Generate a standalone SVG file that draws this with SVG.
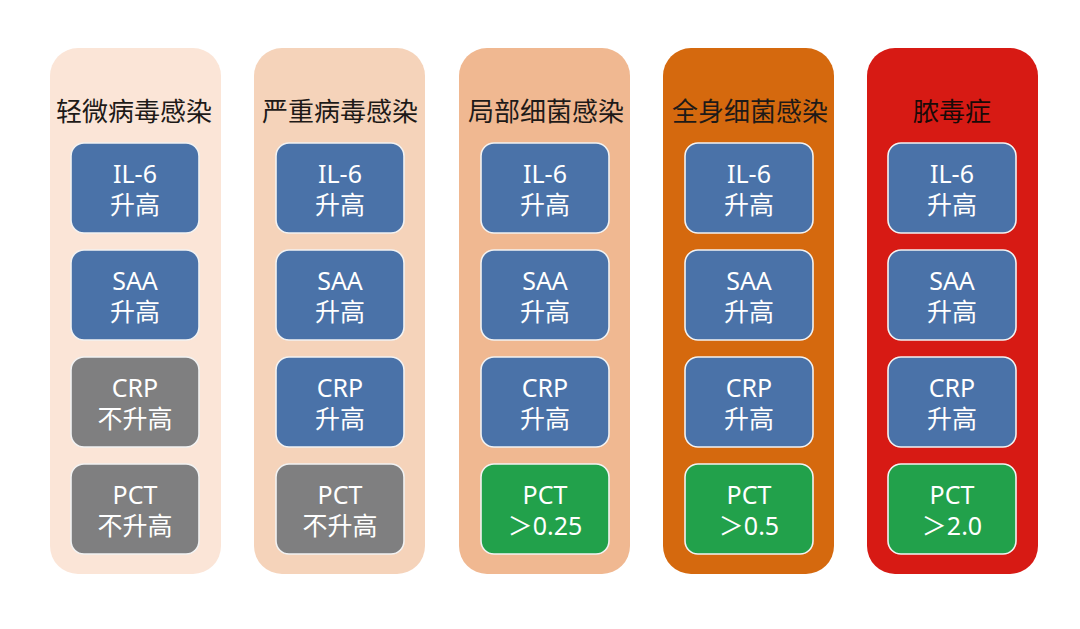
<svg xmlns="http://www.w3.org/2000/svg" width="1080" height="629" viewBox="0 0 1080 629">
<style>
.col{stroke:none}
.box{stroke:#F2F2F2;stroke-width:1.6}
.blue{fill:#4A72A8}
.gray{fill:#7F7F80}
.green{fill:#22A14B}
.title{font-family:"Noto Sans CJK SC","Noto Sans",sans-serif;font-size:26px;fill:#1E1A18;text-anchor:middle}
.t{font-family:"Noto Sans","Noto Sans CJK SC",sans-serif;font-size:25px;fill:#FFFFFF;text-anchor:middle}
</style>
<rect width="1080" height="629" fill="#FFFFFF"/>
<g id="col1">
<rect class="col" x="50" y="48" width="171" height="526" rx="28" fill="#FBE5D7"/>
<text class="title" x="134" y="121">轻微病毒感染</text>
<g id="col1-il6"><rect class="box blue" x="71" y="143" width="128" height="90" rx="13"/><text class="t" x="135" y="183">IL-6</text><text class="t" x="135" y="214">升高</text></g>
<g id="col1-saa"><rect class="box blue" x="71" y="250" width="128" height="90" rx="13"/><text class="t" x="135" y="290">SAA</text><text class="t" x="135" y="321">升高</text></g>
<g id="col1-crp"><rect class="box gray" x="71" y="357" width="128" height="90" rx="13"/><text class="t" x="135" y="397">CRP</text><text class="t" x="135" y="428">不升高</text></g>
<g id="col1-pct"><rect class="box gray" x="71" y="464" width="128" height="90" rx="13"/><text class="t" x="135" y="504">PCT</text><text class="t" x="135" y="535">不升高</text></g>
</g>
<g id="col2">
<rect class="col" x="254" y="48" width="171" height="526" rx="28" fill="#F5D3BA"/>
<text class="title" x="340" y="121">严重病毒感染</text>
<g id="col2-il6"><rect class="box blue" x="276" y="143" width="128" height="90" rx="13"/><text class="t" x="340" y="183">IL-6</text><text class="t" x="340" y="214">升高</text></g>
<g id="col2-saa"><rect class="box blue" x="276" y="250" width="128" height="90" rx="13"/><text class="t" x="340" y="290">SAA</text><text class="t" x="340" y="321">升高</text></g>
<g id="col2-crp"><rect class="box blue" x="276" y="357" width="128" height="90" rx="13"/><text class="t" x="340" y="397">CRP</text><text class="t" x="340" y="428">升高</text></g>
<g id="col2-pct"><rect class="box gray" x="276" y="464" width="128" height="90" rx="13"/><text class="t" x="340" y="504">PCT</text><text class="t" x="340" y="535">不升高</text></g>
</g>
<g id="col3">
<rect class="col" x="459" y="48" width="171" height="526" rx="28" fill="#F0B891"/>
<text class="title" x="546" y="121">局部细菌感染</text>
<g id="col3-il6"><rect class="box blue" x="481" y="143" width="128" height="90" rx="13"/><text class="t" x="545" y="183">IL-6</text><text class="t" x="545" y="214">升高</text></g>
<g id="col3-saa"><rect class="box blue" x="481" y="250" width="128" height="90" rx="13"/><text class="t" x="545" y="290">SAA</text><text class="t" x="545" y="321">升高</text></g>
<g id="col3-crp"><rect class="box blue" x="481" y="357" width="128" height="90" rx="13"/><text class="t" x="545" y="397">CRP</text><text class="t" x="545" y="428">升高</text></g>
<g id="col3-pct"><rect class="box green" x="481" y="464" width="128" height="90" rx="13"/><text class="t" x="545" y="504">PCT</text><text class="t" x="545" y="535">＞0.25</text></g>
</g>
<g id="col4">
<rect class="col" x="663" y="48" width="171" height="526" rx="28" fill="#D5690E"/>
<text class="title" x="750" y="121">全身细菌感染</text>
<g id="col4-il6"><rect class="box blue" x="685" y="143" width="128" height="90" rx="13"/><text class="t" x="749" y="183">IL-6</text><text class="t" x="749" y="214">升高</text></g>
<g id="col4-saa"><rect class="box blue" x="685" y="250" width="128" height="90" rx="13"/><text class="t" x="749" y="290">SAA</text><text class="t" x="749" y="321">升高</text></g>
<g id="col4-crp"><rect class="box blue" x="685" y="357" width="128" height="90" rx="13"/><text class="t" x="749" y="397">CRP</text><text class="t" x="749" y="428">升高</text></g>
<g id="col4-pct"><rect class="box green" x="685" y="464" width="128" height="90" rx="13"/><text class="t" x="749" y="504">PCT</text><text class="t" x="749" y="535">＞0.5</text></g>
</g>
<g id="col5">
<rect class="col" x="867" y="48" width="171" height="526" rx="28" fill="#D71A14"/>
<text class="title" x="952" y="121" style="fill:#1A0A08">脓毒症</text>
<g id="col5-il6"><rect class="box blue" x="888" y="143" width="128" height="90" rx="13"/><text class="t" x="952" y="183">IL-6</text><text class="t" x="952" y="214">升高</text></g>
<g id="col5-saa"><rect class="box blue" x="888" y="250" width="128" height="90" rx="13"/><text class="t" x="952" y="290">SAA</text><text class="t" x="952" y="321">升高</text></g>
<g id="col5-crp"><rect class="box blue" x="888" y="357" width="128" height="90" rx="13"/><text class="t" x="952" y="397">CRP</text><text class="t" x="952" y="428">升高</text></g>
<g id="col5-pct"><rect class="box green" x="888" y="464" width="128" height="90" rx="13"/><text class="t" x="952" y="504">PCT</text><text class="t" x="952" y="535">＞2.0</text></g>
</g>
<g id="connectors"></g>
</svg>
